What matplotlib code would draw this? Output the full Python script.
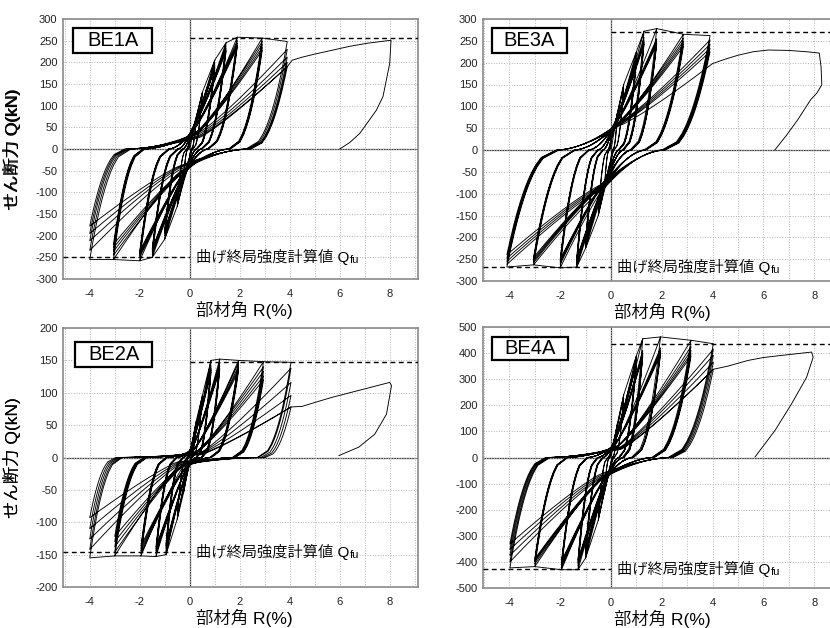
import numpy as np
import matplotlib.pyplot as plt
from matplotlib.patches import Rectangle
from matplotlib.ticker import MultipleLocator

plt.rcParams['font.family'] = ['Liberation Sans', 'Noto Sans CJK JP']
plt.rcParams['axes.unicode_minus'] = False

# cycle peaks: drift R(%) and shear Q(kN)
# one list entry per drift level, one inner value per repeated cycle

# BE1A
be1a_amp_pos = [0.25, 0.5, 1.0, 1.45, 1.9, 2.9, 3.9]
be1a_amp_neg = [-0.25, -0.5, -1.0, -1.5, -2.0, -3.05, -4.0]
be1a_q_pos = [[70, 66], [130, 124], [205, 198, 192, 188, 185], [245, 238, 232, 228, 225],
              [258, 250, 244, 239, 235], [256, 248, 241, 234, 228], [248, 230, 212, 200, 190]]
be1a_q_neg = [[-72, -68], [-132, -126], [-208, -200, -194, -190, -186], [-250, -243, -237, -233, -230],
              [-258, -250, -245, -240, -236], [-255, -245, -236, -228, -220], [-255, -234, -212, -195, -178]]
be1a_r0_down = [0.06, 0.12, 0.25, 0.45, 0.7, 1.55, 2.25]
be1a_r0_up = [-0.06, -0.12, -0.25, -0.45, -0.8, -1.8, -2.35]
be1a_slip_up = [20, 30, 40, 45, 45, 40, 38]
be1a_slip_down = [-20, -30, -40, -45, -50, -55, -50]
be1a_push_r = [3.9, 4.1, 4.5, 5.0, 5.7, 6.4, 7.1, 8.05, 8.0, 7.73, 7.47, 7.2, 6.8, 6.4, 6.0]
be1a_push_q = [190, 205, 212, 219, 228, 237, 244, 251, 198, 121, 90, 68, 36, 15, 0]
be1a_qfu = (255, -250)

# BE3A
be3a_amp_pos = [0.25, 0.5, 1.0, 1.3, 1.8, 2.85, 3.9]
be3a_amp_neg = [-0.25, -0.5, -1.0, -1.35, -2.0, -3.05, -4.1]
be3a_q_pos = [[85, 80], [150, 142], [225, 215, 208, 204, 200], [272, 258, 250, 246, 242],
              [278, 255, 250, 246, 242], [265, 256, 249, 243, 237], [262, 252, 242, 233, 225]]
be3a_q_neg = [[-85, -80], [-150, -142], [-225, -218, -212, -208, -204], [-268, -262, -256, -252, -248],
              [-270, -262, -257, -253, -250], [-263, -258, -254, -250, -246], [-268, -262, -255, -248, -240]]
be3a_r0_down = [0.06, 0.12, 0.28, 0.45, 0.75, 1.3, 2.0]
be3a_r0_up = [-0.06, -0.12, -0.3, -0.5, -0.85, -1.4, -2.05]
be3a_slip_up = [25, 35, 50, 55, 60, 60, 62]
be3a_slip_down = [-25, -35, -50, -60, -70, -80, -90]
be3a_push_r = [4.0, 4.5, 5.0, 5.6, 6.2, 7.0, 7.7, 8.2, 8.27, 8.3, 8.1, 7.86, 7.35, 6.9, 6.45]
be3a_push_q = [198, 208, 217, 225, 229, 228, 225, 222, 191, 149, 130, 115, 69, 33, 0]
be3a_qfu = (271, -268)

# BE2A
be2a_amp_pos = [0.25, 0.5, 0.85, 1.2, 1.95, 2.95, 4.05]
be2a_amp_neg = [-0.25, -0.5, -0.95, -1.35, -1.95, -3.0, -4.0]
be2a_q_pos = [[55, 52], [95, 90], [150, 142, 138, 135, 132], [152, 146, 141, 138, 135],
              [150, 146, 141, 137, 133], [148, 140, 133, 126, 120], [147, 138, 116, 96, 78]]
be2a_q_neg = [[-55, -52], [-95, -90], [-150, -145, -140, -137, -134], [-153, -148, -144, -141, -138],
              [-152, -148, -144, -140, -136], [-152, -146, -138, -130, -122], [-155, -142, -126, -110, -93]]
be2a_r0_down = [0.04, 0.1, 0.25, 0.45, 0.8, 1.7, 2.7]
be2a_r0_up = [-0.04, -0.1, -0.25, -0.5, -0.9, -1.7, -2.7]
be2a_slip_up = [10, 12, 14, 14, 12, 9, 7]
be2a_slip_down = [-10, -12, -14, -15, -15, -14, -12]
be2a_push_r = [4.05, 4.5, 5.0, 5.7, 6.4, 7.0, 8.0, 8.07, 7.87, 7.4, 6.76, 5.97]
be2a_push_q = [78, 79, 85, 93, 100, 106, 116, 111, 67, 36, 16, 3]
be2a_qfu = (148, -146)

# BE4A
be4a_amp_pos = [0.25, 0.5, 1.0, 1.25, 1.95, 3.15, 4.03]
be4a_amp_neg = [-0.25, -0.5, -1.0, -1.3, -1.95, -3.0, -3.98]
be4a_q_pos = [[130, 122], [240, 228], [390, 378, 368, 362, 356], [455, 410, 400, 394, 388],
              [462, 420, 410, 402, 395], [449, 425, 410, 398, 388], [436, 415, 392, 365, 338]]
be4a_q_neg = [[-130, -122], [-240, -228], [-385, -372, -362, -356, -350], [-430, -415, -405, -398, -392],
              [-430, -420, -412, -405, -398], [-418, -408, -400, -394, -388], [-423, -400, -375, -352, -331]]
be4a_r0_down = [0.05, 0.12, 0.3, 0.45, 0.8, 1.6, 2.25]
be4a_r0_up = [-0.05, -0.12, -0.3, -0.5, -0.9, -1.7, -2.4]
be4a_slip_up = [25, 35, 45, 50, 50, 45, 40]
be4a_slip_down = [-25, -40, -55, -65, -75, -80, -80]
be4a_push_r = [4.03, 4.6, 5.4, 6.0, 6.7, 7.9, 7.96, 7.7, 7.1, 6.46, 5.67]
be4a_push_q = [338, 350, 372, 383, 391, 404, 384, 307, 204, 104, 2]
be4a_qfu = (436, -428)


def branch(r1, q1, rz, qs, r2, q2, knee=None):
    # unload from a peak to Q=0, slip through the pinched zone, reload to next peak
    s = np.linspace(1, 0, 15)
    ru = rz + (r1 - rz) * s ** 0.45
    qu = q1 * s
    r_se = -0.15 * rz                     # where the slip ends
    xs = np.linspace(0, 1, 15)[1:]
    rs = rz + (r_se - rz) * xs
    qsl = qs * xs ** 1.7
    rk, qk = (r2, q2) if knee is None else knee
    xl = np.linspace(0, 1, 25)[1:]
    rl = r_se + (rk - r_se) * xl
    ql = qs + (qk - qs) * xl ** 1.15
    r = np.concatenate([ru, rs, rl])
    q = np.concatenate([qu, qsl, ql])
    if knee is not None:
        r = np.append(r, r2)
        q = np.append(q, q2)
    return r, q


def hysteresis(amp_pos, amp_neg, q_pos, q_neg, r0_down, r0_up, slip_up, slip_down, push_r, push_q):
    R = [0.0, amp_pos[0]]
    Q = [0.0, q_pos[0][0]]
    cycles = [(i, k) for i in range(len(amp_pos)) for k in range(len(q_pos[i]))]
    for n, (i, k) in enumerate(cycles):
        rp, qp = amp_pos[i], q_pos[i][k]
        rn, qn = amp_neg[i], q_neg[i][k]
        knee = (amp_neg[i - 1], q_neg[i - 1][0]) if (k == 0 and i > 0) else None
        # weaker cycles cross zero a little closer to their peak
        f = 0.5 + 0.5 * qp / q_pos[i][0]
        rz = rp - (rp - r0_down[i]) * f
        sd = slip_down[i] * qp / q_pos[i][0]
        r, q = branch(rp, qp, rz, sd, rn, qn, knee)
        R.extend(r[1:]); Q.extend(q[1:])
        if n + 1 < len(cycles):
            j, m = cycles[n + 1]
            r2, q2 = amp_pos[j], q_pos[j][m]
            knee = (amp_pos[i], q_pos[i][0]) if j != i else None
        else:
            r2, q2, knee = push_r[0], push_q[0], None
        f = 0.5 + 0.5 * qn / q_neg[i][0]
        rz = rn - (rn - r0_up[i]) * f
        su = slip_up[i] * qn / q_neg[i][0]
        r, q = branch(rn, qn, rz, su, r2, q2, knee)
        R.extend(r[1:]); Q.extend(q[1:])
    R.extend(push_r[1:]); Q.extend(push_q[1:])
    return np.array(R), np.array(Q)


W, H = 830, 628
fig = plt.figure(figsize=(W / 100, H / 100), dpi=100)

# name, data, qfu, ymax, ystep, axes px (left, top, right, bottom), xlim, label box px
panels = [
    ('BE1A', (be1a_amp_pos, be1a_amp_neg, be1a_q_pos, be1a_q_neg, be1a_r0_down, be1a_r0_up,
              be1a_slip_up, be1a_slip_down, be1a_push_r, be1a_push_q), be1a_qfu,
     300, 50, (63, 19, 418, 279), (-5.07, 9.13), (10, 9, 79, 25)),
    ('BE3A', (be3a_amp_pos, be3a_amp_neg, be3a_q_pos, be3a_q_neg, be3a_r0_down, be3a_r0_up,
              be3a_slip_up, be3a_slip_down, be3a_push_r, be3a_push_q), be3a_qfu,
     300, 50, (483, 19, 835, 281), (-5.04, 8.82), (9, 9, 75, 25)),
    ('BE2A', (be2a_amp_pos, be2a_amp_neg, be2a_q_pos, be2a_q_neg, be2a_r0_down, be2a_r0_up,
              be2a_slip_up, be2a_slip_down, be2a_push_r, be2a_push_q), be2a_qfu,
     200, 50, (63, 328, 418, 587), (-5.07, 9.13), (12, 14, 77, 25)),
    ('BE4A', (be4a_amp_pos, be4a_amp_neg, be4a_q_pos, be4a_q_neg, be4a_r0_down, be4a_r0_up,
              be4a_slip_up, be4a_slip_down, be4a_push_r, be4a_push_q), be4a_qfu,
     500, 100, (483, 327, 835, 588), (-5.04, 8.82), (9, 10, 76, 23)),
]

for name, data, qfu, ymax, ystep, (l, t, r, b), xlim, (bx, by, bw, bh) in panels:
    ax = fig.add_axes([l / W, 1 - b / H, (r - l) / W, (b - t) / H])
    ax.set_xlim(*xlim)
    ax.set_ylim(-ymax, ymax)
    ax.xaxis.set_major_locator(MultipleLocator(2))
    ax.xaxis.set_minor_locator(MultipleLocator(1))
    ax.yaxis.set_major_locator(MultipleLocator(ystep))
    ax.grid(True, which='both', axis='x', linestyle=':', color='#b5b5b5', linewidth=0.7)
    ax.grid(True, which='major', axis='y', linestyle=':', color='#b5b5b5', linewidth=0.7)
    ax.tick_params(which='both', length=0, labelsize=8, colors='#222222')
    ax.tick_params(axis='x', pad=7)
    ax.tick_params(axis='y', pad=4)
    for sp in ax.spines.values():
        sp.set_color('#8a8a8a')
        sp.set_linewidth(1.2)
    ax.axhline(0, color='#444444', linewidth=0.9, zorder=1)
    ax.axvline(0, color='#444444', linewidth=0.9, zorder=1)

    R, Q = hysteresis(*data)
    ax.plot(R, Q, color='black', linewidth=0.65, zorder=3)

    # calculated flexural strength
    ax.plot([0, xlim[1]], [qfu[0], qfu[0]], color='black', linewidth=1.0,
            linestyle=(0, (3.5, 2.5)), zorder=4)
    ax.plot([xlim[0], 0], [qfu[1], qfu[1]], color='black', linewidth=1.0,
            linestyle=(0, (3.5, 2.5)), zorder=4)
    txt = ax.text(0.25, qfu[1], '曲げ終局強度計算値 Q', fontsize=11, fontweight=350,
                  va='center', ha='left', zorder=5)
    ax.annotate('fu', xy=(1.0, 0.14), xycoords=txt, fontsize=8, va='baseline', ha='left')

    aw, ah = r - l, b - t
    ax.add_patch(Rectangle((bx / aw, 1 - (by + bh) / ah), bw / aw, bh / ah, transform=ax.transAxes,
                           facecolor='white', edgecolor='black', linewidth=1.6, zorder=6))
    ax.text((bx + bw / 2) / aw, 1 - (by + bh / 2) / ah, name, transform=ax.transAxes,
            fontsize=14.5, ha='center', va='center', zorder=7)

    ax.set_ylabel('せん断力 Q(kN)', fontsize=12.5, fontweight=350)
    ax.set_xlabel('部材角 R(%)', fontsize=12.5, fontweight=350)
    ax.yaxis.set_label_coords((21 - l) / aw, 0.5)
    ax.xaxis.set_label_coords(0.51, -(22 / ah))

fig.savefig('out.png', dpi=100)
